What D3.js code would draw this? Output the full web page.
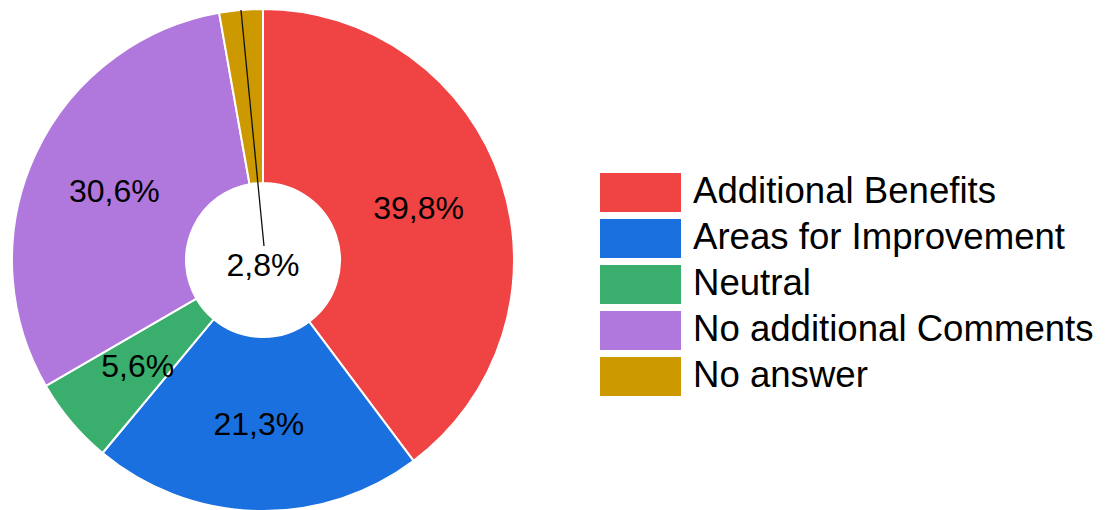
<!DOCTYPE html>
<html>
<head>
<meta charset="utf-8">
<script src="https://cdn.jsdelivr.net/npm/d3@7"></script>
<style>
  html, body { margin: 0; padding: 0; background: #fff; }
  svg { display: block; font-family: "Liberation Sans", Arial, sans-serif; }
</style>
</head>
<body>
<svg id="chart" width="1107" height="510"></svg>
<script>
// Survey responses (percent of respondents)
const categories = ["Additional Benefits", "Areas for Improvement", "Neutral", "No additional Comments", "No answer"];
const values = [39.8, 21.3, 5.6, 30.6, 2.8];
const labels = ["39,8%", "21,3%", "5,6%", "30,6%", "2,8%"];
const colors = ["#f04343", "#1a70de", "#39ae6d", "#b077dd", "#cc9900"];

const svg = d3.select("#chart");
const cx = 263, cy = 260;
const outerR = 251, innerR = 77;

const data = categories.map((c, i) => ({ name: c, value: values[i], label: labels[i], color: colors[i] }));

const pie = d3.pie().value(d => d.value).sort(null);
const arc = d3.arc().innerRadius(innerR).outerRadius(outerR);
const arcs = pie(data);

const g = svg.append("g").attr("transform", `translate(${cx},${cy})`);

g.selectAll("path.slice")
  .data(arcs)
  .join("path")
  .attr("class", "slice")
  .attr("d", arc)
  .attr("fill", d => d.data.color)
  .attr("stroke", "#fff")
  .attr("stroke-width", 2)
  .attr("stroke-linejoin", "round");

// Small slices put their label in the hole, joined by a leader line
const minInside = 4;
const labelPos = d => d.data.value < minInside ? [0, 5] : arc.centroid(d);

arcs.filter(d => d.data.value < minInside).forEach(d => {
  const mid = (d.startAngle + d.endAngle) / 2;
  const p = labelPos(d);
  g.append("line")
    .attr("x1", Math.sin(mid) * outerR)
    .attr("y1", -Math.cos(mid) * outerR)
    .attr("x2", p[0] + 1)
    .attr("y2", p[1] - 19)
    .attr("stroke", "#111")
    .attr("stroke-width", 1.3);
});

g.selectAll("text.val")
  .data(arcs)
  .join("text")
  .attr("class", "val")
  .attr("x", d => labelPos(d)[0])
  .attr("y", d => labelPos(d)[1])
  .attr("dy", "0.35em")
  .attr("text-anchor", "middle")
  .attr("font-size", 32)
  .attr("fill", "#000")
  .text(d => d.data.label);

// Legend
const legend = svg.append("g").attr("transform", "translate(600,173)");
const rowH = 46;
const item = legend.selectAll("g.item")
  .data(data)
  .join("g")
  .attr("class", "item")
  .attr("transform", (d, i) => `translate(0,${i * rowH})`);

item.append("rect")
  .attr("width", 81)
  .attr("height", 39)
  .attr("fill", d => d.color);

item.append("text")
  .attr("x", 93)
  .attr("y", 30)
  .attr("font-size", 36.6)
  .attr("fill", "#000")
  .text(d => d.name);
</script>
</body>
</html>
